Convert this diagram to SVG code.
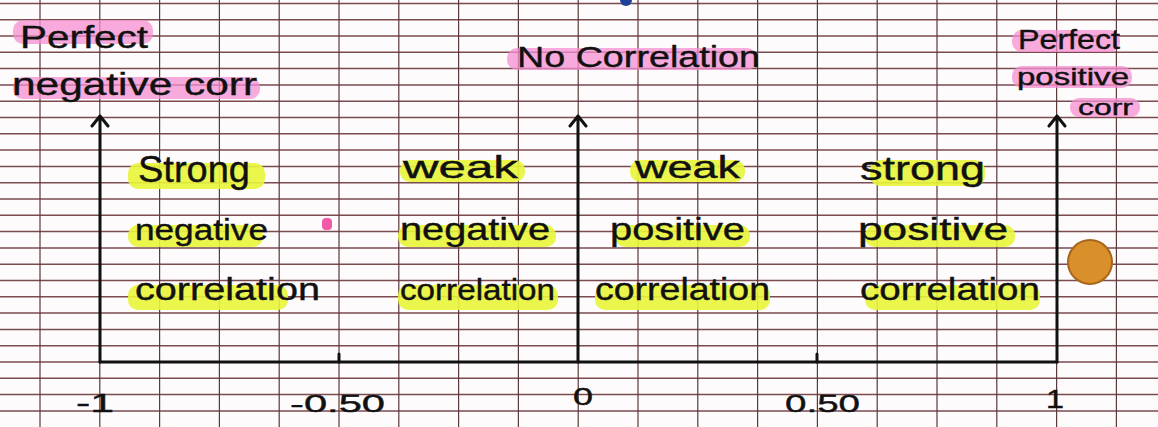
<svg xmlns="http://www.w3.org/2000/svg" width="1158" height="427" viewBox="0 0 1158 427">
<defs>
<style>
.hg{stroke:#7b4b50;stroke-width:1.5;fill:none}
.vg{stroke:#5a3a3a;stroke-width:1.2;fill:none}
.ax{stroke:#111;stroke-width:3;fill:none;stroke-linecap:round;stroke-linejoin:round}
.t{font-family:"Liberation Sans",Arial,sans-serif;fill:#111;stroke:#111;stroke-width:0.4}
.pk{fill:#f48fd0;opacity:0.75}
.yl{fill:#e9f53a;opacity:0.9}
</style>
</defs>
<rect width="1158" height="427" fill="#fdfbfb"/>
<g id="grid">
<path class="hg" d="M0 3.4H1158M0 19.7H1158M0 36H1158M0 52.3H1158M0 68.6H1158M0 84.9H1158M0 101.2H1158M0 117.5H1158M0 133.8H1158M0 150.1H1158M0 166.4H1158M0 182.7H1158M0 199H1158M0 215.3H1158M0 231.6H1158M0 247.9H1158M0 264.2H1158M0 280.5H1158M0 296.8H1158M0 313.1H1158M0 329.4H1158M0 345.7H1158M0 362H1158M0 378.3H1158M0 394.6H1158M0 410.9H1158"/>
<path class="vg" d="M40 0V427M99.8 0V427M159.6 0V427M219.4 0V427M279.2 0V427M339 0V427M398.8 0V427M458.6 0V427M518.4 0V427M578.2 0V427M638 0V427M697.8 0V427M757.6 0V427M817.4 0V427M877.2 0V427M937 0V427M996.8 0V427M1056.6 0V427M1116.4 0V427"/>
</g>
<g id="connectors">
<path class="ax" d="M100 362H1057"/>
<path class="ax" d="M100 362V116M92 126L100 116L108 126"/>
<path class="ax" d="M578 362V116M570 126L578 116L586 126"/>
<path class="ax" d="M1057 362V116M1049 126L1057 116L1065 126"/>
<path class="ax" d="M339 362V354M817 362V354" stroke-width="2"/>
</g>
<g id="label-perfect-negative">
<rect class="pk" x="13" y="20" width="140" height="24" rx="10"/>
<rect class="pk" x="13" y="77" width="247" height="22" rx="10"/>
<text class="t" x="20" y="48" font-size="32" textLength="128" lengthAdjust="spacingAndGlyphs">Perfect</text>
<text class="t" x="12" y="95" font-size="32" textLength="245" lengthAdjust="spacingAndGlyphs">negative corr</text>
</g>
<g id="label-no-correlation">
<rect class="pk" x="507" y="48" width="250" height="22" rx="10"/>
<text class="t" x="517" y="67" font-size="30" textLength="243" lengthAdjust="spacingAndGlyphs">No Correlation</text>
</g>
<g id="label-perfect-positive">
<rect class="pk" x="1012" y="30" width="108" height="22" rx="10"/>
<rect class="pk" x="1012" y="66" width="120" height="22" rx="10"/>
<rect class="pk" x="1070" y="98" width="70" height="19" rx="9"/>
<text class="t" x="1018" y="49" font-size="28" textLength="102" lengthAdjust="spacingAndGlyphs">Perfect</text>
<text class="t" x="1017" y="85" font-size="24" textLength="112" lengthAdjust="spacingAndGlyphs">positive</text>
<text class="t" x="1078" y="115" font-size="22" textLength="55" lengthAdjust="spacingAndGlyphs">corr</text>
</g>
<g id="strong-negative">
<rect class="yl" x="128" y="163" width="137" height="26" rx="10"/>
<rect class="yl" x="128" y="225" width="135" height="22" rx="10"/>
<rect class="yl" x="128" y="285" width="160" height="25" rx="10"/>
<text class="t" x="138" y="182" font-size="36" textLength="112" lengthAdjust="spacingAndGlyphs">Strong</text>
<text class="t" x="135" y="240" font-size="30" textLength="133" lengthAdjust="spacingAndGlyphs">negative</text>
<text class="t" x="135" y="300" font-size="32" textLength="185" lengthAdjust="spacingAndGlyphs">correlation</text>
</g>
<g id="weak-negative">
<rect class="yl" x="400" y="160" width="125" height="22" rx="10"/>
<rect class="yl" x="398" y="225" width="158" height="22" rx="10"/>
<rect class="yl" x="398" y="285" width="160" height="25" rx="10"/>
<text class="t" x="403" y="178" font-size="32" textLength="115" lengthAdjust="spacingAndGlyphs">weak</text>
<text class="t" x="400" y="240" font-size="32" textLength="150" lengthAdjust="spacingAndGlyphs">negative</text>
<text class="t" x="400" y="300" font-size="30" textLength="155" lengthAdjust="spacingAndGlyphs">correlation</text>
</g>
<g id="weak-positive">
<rect class="yl" x="630" y="160" width="115" height="22" rx="10"/>
<rect class="yl" x="615" y="225" width="135" height="22" rx="10"/>
<rect class="yl" x="595" y="285" width="175" height="25" rx="10"/>
<text class="t" x="635" y="178" font-size="32" textLength="105" lengthAdjust="spacingAndGlyphs">weak</text>
<text class="t" x="610" y="240" font-size="32" textLength="135" lengthAdjust="spacingAndGlyphs">positive</text>
<text class="t" x="595" y="300" font-size="32" textLength="175" lengthAdjust="spacingAndGlyphs">correlation</text>
</g>
<g id="strong-positive">
<rect class="yl" x="870" y="160" width="115" height="26" rx="10"/>
<rect class="yl" x="865" y="225" width="150" height="22" rx="10"/>
<rect class="yl" x="865" y="285" width="175" height="25" rx="10"/>
<text class="t" x="860" y="180" font-size="34" textLength="125" lengthAdjust="spacingAndGlyphs">strong</text>
<text class="t" x="858" y="240" font-size="32" textLength="150" lengthAdjust="spacingAndGlyphs">positive</text>
<text class="t" x="860" y="300" font-size="32" textLength="180" lengthAdjust="spacingAndGlyphs">correlation</text>
</g>
<g id="scale-labels">
<text class="t" x="76" y="412" font-size="26" textLength="38" lengthAdjust="spacingAndGlyphs">-1</text>
<text class="t" x="290" y="412" font-size="24" textLength="95" lengthAdjust="spacingAndGlyphs">-0.50</text>
<text class="t" x="573" y="405" font-size="24" textLength="20" lengthAdjust="spacingAndGlyphs">0</text>
<text class="t" x="785" y="412" font-size="24" textLength="75" lengthAdjust="spacingAndGlyphs">0.50</text>
<text class="t" x="1046" y="408" font-size="26" textLength="18" lengthAdjust="spacingAndGlyphs">1</text>
</g>
<g id="marks">
<circle cx="1090" cy="262" r="22" fill="#d9902a" stroke="#a8661c" stroke-width="2"/>
<rect x="322" y="218" width="10" height="12" rx="4" fill="#f05aa8"/>
<circle cx="626" cy="0" r="6" fill="#1f3f9a"/>
</g>
</svg>
